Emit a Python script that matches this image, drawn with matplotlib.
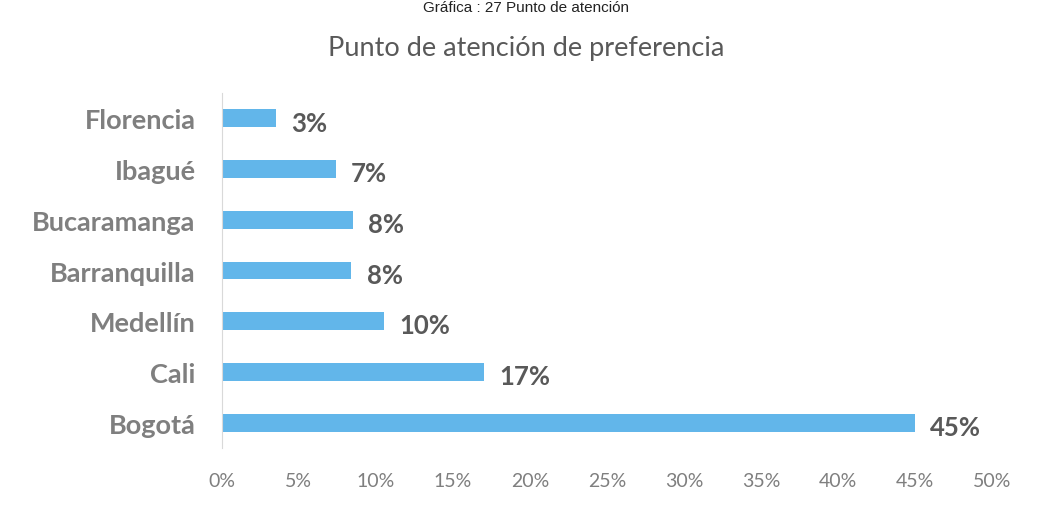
import matplotlib
matplotlib.use("Agg")
import matplotlib.pyplot as plt
from matplotlib.ticker import FuncFormatter

categories = ["Florencia", "Ibagué", "Bucaramanga", "Barranquilla", "Medellín", "Cali", "Bogotá"]
values = [3.5, 7.4, 8.5, 8.4, 10.5, 17.0, 45.0]
xticks = [0, 5, 10, 15, 20, 25, 30, 35, 40, 45, 50]

plt.rcParams['font.family'] = ['Lato', 'DejaVu Sans']

fig = plt.figure(figsize=(10.37, 5.06), dpi=100)
ax = fig.add_axes([0.214, 0.1126, 0.7425, 0.7016])

ypos = list(range(len(categories)))[::-1]
ax.barh(ypos, values, height=0.35, color='#62b6ea')

for y, v in zip(ypos, values):
    ax.annotate(f"{int(v)}%", xy=(v, y), xytext=(11, -3), textcoords='offset points',
                ha='left', va='center', fontsize=18.5, fontweight='bold', color='#595959')

ax.set_xlim(0, 50)
ax.set_ylim(-0.5, len(categories) - 0.5)
ax.set_yticks(ypos)
ax.set_yticklabels(categories, fontsize=19.5, fontweight='bold', color='#7f7f7f')
ax.set_xticks(xticks)
ax.xaxis.set_major_formatter(FuncFormatter(lambda x, p: f"{x:.0f}%"))
ax.tick_params(axis='x', labelsize=14, colors='#7f7f7f', length=0, pad=17)
ax.tick_params(axis='y', length=0, pad=19)

for s in ['top', 'right', 'bottom']:
    ax.spines[s].set_visible(False)
ax.spines['left'].set_color('#d9d9d9')
ax.spines['left'].set_linewidth(0.8)

fig.text(0.507, 0.905, "Punto de atención de preferencia", ha='center', va='center',
         fontsize=19.5, color='#595959')
fig.text(0.507, 0.999, "Gráfica : 27 Punto de atención", ha='center', va='top',
         fontsize=11, color='#222222', family=['Liberation Sans', 'DejaVu Sans'])

fig.savefig("out.png", dpi=100)
